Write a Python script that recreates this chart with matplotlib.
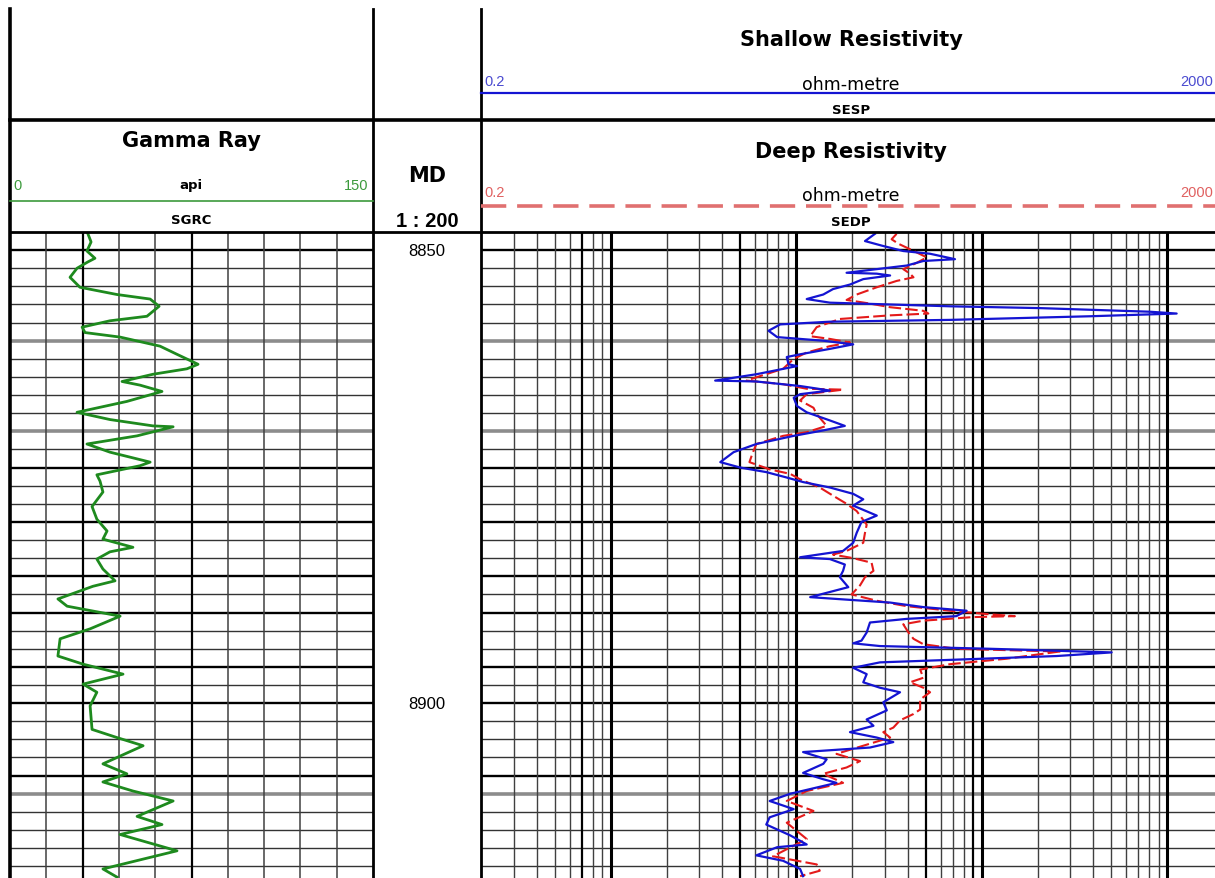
import matplotlib.pyplot as plt
import numpy as np

plt.rcParams['font.family'] = ['Liberation Sans', 'DejaVu Sans']

# gamma ray (SGRC, api)
grDepth = [8848.2, 8849.1, 8850.1, 8850.9, 8851.3, 8852.0, 8853.0, 8854.1, 8854.9, 8855.4,
           8856.2, 8857.3, 8857.8, 8858.5, 8859.1, 8859.6, 8860.6, 8861.5, 8862.6, 8863.1,
           8863.7, 8864.5, 8864.9, 8865.6, 8866.7, 8867.9, 8868.7, 8869.4, 8869.5, 8870.5,
           8871.4, 8872.3, 8873.4, 8873.8, 8874.8, 8875.5, 8876.7, 8878.3, 8879.7, 8881.0,
           8881.9, 8882.8, 8883.3, 8884.1, 8885.2, 8886.5, 8887.1, 8888.5, 8889.3, 8890.4,
           8891.8, 8892.9, 8894.8, 8895.7, 8896.8, 8897.9, 8898.8, 8900.3, 8902.9, 8903.8,
           8904.7, 8906.7, 8907.8, 8908.7, 8909.7, 8910.8, 8912.5, 8913.4, 8914.5, 8916.3,
           8918.3, 8919.2]
grValue = [32.2, 33.5, 31.8, 35.1, 32.2, 27.7, 24.8, 28.9, 44.2, 57.9,
           61.6, 56.6, 41.3, 29.8, 31.0, 45.5, 62.0, 69.0, 77.7, 73.1,
           59.1, 46.3, 53.7, 62.8, 48.3, 27.7, 41.3, 59.1, 67.4, 52.5,
           31.8, 41.3, 57.9, 53.7, 35.9, 37.2, 38.4, 33.9, 35.9, 40.1,
           38.4, 50.8, 41.3, 35.9, 38.4, 43.4, 34.3, 19.8, 23.6, 45.5,
           33.1, 20.7, 19.8, 30.2, 46.7, 30.2, 35.9, 33.1, 33.9, 44.2,
           55.0, 38.4, 48.3, 38.4, 50.8, 67.4, 52.5, 62.8, 45.5, 69.0,
           38.4, 44.2]

# shallow resistivity (SESP, ohm-metre)
sespDepth = [8848.2, 8849.0, 8849.5, 8850.1, 8850.4, 8851.0, 8851.2, 8851.7, 8852.5, 8852.6,
             8852.8, 8853.2, 8853.8, 8854.3, 8854.9, 8855.4, 8855.8, 8856.2, 8856.4, 8856.8,
             8857.0, 8857.3, 8857.7, 8857.9, 8858.2, 8858.9, 8859.6, 8860.0, 8860.4, 8860.9,
             8861.5, 8861.8, 8862.6, 8862.8, 8863.7, 8864.4, 8864.5, 8865.0, 8865.5, 8865.9,
             8866.3, 8867.2, 8867.9, 8868.8, 8869.4, 8869.9, 8870.5, 8871.4, 8872.3, 8873.4,
             8874.0, 8874.5, 8875.1, 8875.6, 8876.2, 8876.9, 8877.5, 8878.2, 8879.3, 8880.0,
             8881.2, 8882.3, 8883.2, 8883.9, 8884.1, 8884.7, 8885.4, 8886.1, 8887.2, 8888.3,
             8888.5, 8888.9, 8889.4, 8889.8, 8890.4, 8890.7, 8891.1, 8892.2, 8893.1, 8893.4,
             8893.7, 8894.0, 8894.4, 8894.8, 8895.2, 8895.5, 8896.1, 8896.8, 8897.7, 8898.3,
             8898.8, 8899.9, 8900.8, 8901.8, 8902.5, 8903.2, 8903.8, 8904.3, 8904.9, 8905.4,
             8906.2, 8906.7, 8907.7, 8908.4, 8908.8, 8910.0, 8910.8, 8911.7, 8912.6, 8913.4,
             8914.6, 8915.6, 8915.9, 8916.8, 8917.4, 8918.3, 8919.1]
sespValue = [26.6, 23.5, 28.9, 37.8, 52.7, 71.8, 48.5, 39.5, 18.7, 27.2,
             32.1, 23.0, 19.5, 15.8, 14.0, 11.4, 15.2, 67.5, 206, 808,
             1125, 384, 67.5, 15.2, 8.2, 7.1, 7.9, 14.0, 20.3, 15.2,
             10.5, 8.9, 9.1, 10.1, 6.1, 3.66, 6.1, 10.5, 15.2, 10.5,
             9.7, 10.1, 11.4, 15.2, 18.3, 14.0, 9.7, 6.1, 4.6, 3.9,
             5.0, 6.9, 8.9, 10.9, 15.2, 20.3, 23.0, 20.3, 27.2, 22.5,
             21.2, 20.3, 17.9, 10.5, 15.2, 18.3, 17.9, 17.2, 19.1, 11.9,
             16.5, 32.1, 48.5, 83, 73, 39.5, 25.0, 24.0, 22.5, 20.3,
             28.3, 111, 502, 254, 73, 28.3, 20.3, 24.0, 23.0, 28.3,
             36.3, 29.5, 30.8, 24.0, 26.1, 19.5, 27.2, 33.4, 25.0, 10.9,
             14.6, 14.0, 10.9, 14.0, 16.5, 9.3, 7.2, 9.7, 7.2, 6.9,
             9.3, 11.4, 7.9, 6.1, 8.5, 10.5, 10.9]

# deep resistivity (SEDP, ohm-metre)
sedpDepth = [8848.2, 8848.8, 8849.3, 8849.9, 8850.8, 8851.4, 8852.1, 8852.6, 8853.0, 8853.4,
             8854.1, 8854.9, 8855.5, 8855.9, 8856.3, 8856.7, 8857.0, 8857.2, 8857.6, 8858.5,
             8859.5, 8859.8, 8860.2, 8860.6, 8861.3, 8862.0, 8863.1, 8863.9, 8864.4, 8864.8,
             8865.3, 8865.4, 8865.9, 8866.6, 8867.4, 8868.1, 8869.4, 8870.1, 8870.5, 8871.4,
             8872.5, 8873.4, 8874.2, 8874.7, 8875.3, 8876.2, 8877.1, 8878.0, 8878.8, 8880.3,
             8881.2, 8882.3, 8883.2, 8883.6, 8884.0, 8884.5, 8885.4, 8886.1, 8887.0, 8888.0,
             8888.7, 8889.3, 8889.8, 8890.2, 8890.4, 8890.5, 8890.9, 8891.3, 8892.2, 8892.9,
             8893.5, 8894.0, 8894.2, 8894.3, 8895.1, 8895.7, 8896.3, 8897.2, 8897.7, 8898.3,
             8898.8, 8899.6, 8900.7, 8901.2, 8901.9, 8902.7, 8903.2, 8903.8, 8904.7, 8905.6,
             8906.4, 8907.1, 8907.8, 8908.8, 8909.7, 8910.8, 8911.9, 8913.2, 8915.0, 8916.9,
             8917.8, 8918.5, 8919.1]
sedpValue = [34.8, 32.7, 35.6, 41.1, 50.6, 44.7, 37.8, 41.1, 42.9, 34.8,
             27.2, 21.2, 18.7, 25.0, 32.1, 48.5, 51.6, 32.1, 17.2, 12.9,
             11.9, 15.2, 19.5, 15.2, 11.4, 9.7, 8.5, 6.4, 5.4, 8.5,
             11.4, 17.9, 11.4, 10.5, 12.4, 12.9, 14.6, 11.4, 8.5, 6.1,
             5.8, 5.6, 7.2, 9.3, 10.5, 13.4, 15.8, 18.7, 21.2, 24.0,
             23.5, 23.0, 18.7, 15.8, 20.3, 25.5, 26.1, 23.5, 22.1, 19.9,
             27.2, 39.5, 67.5, 111, 151, 90, 48.5, 37.8, 40.3, 42.9,
             48.5, 73, 168, 264, 136, 67.5, 46.6, 48.5, 41.1, 48.5,
             52.7, 46.6, 46.6, 42.9, 36.3, 33.4, 29.5, 32.1, 23.0, 16.5,
             22.1, 18.7, 14.0, 17.9, 11.4, 8.9, 12.4, 8.9, 11.4, 7.5,
             12.9, 13.4, 10.5]

depthLabels = [8850, 8900]

W, H = 1215, 879
f = plt.figure(figsize=(W / 100, H / 100), dpi=100)

def fx(px):
    return px / W

def fy(py):
    return 1 - py / H

dTop = 8848.0
dBot = 8919.3

axGr = f.add_axes([fx(10), 0, fx(373) - fx(10), fy(233)])
axMd = f.add_axes([fx(373), 0, fx(481) - fx(373), fy(233)])
axRes = f.add_axes([fx(481), 0, fx(1223) - fx(481), fy(233)])

for ax in (axGr, axMd, axRes):
    ax.set_ylim(dBot, dTop)
    ax.set_xticks([])
    ax.set_yticks([])
    for s in ax.spines.values():
        s.set_visible(False)

# depth grid, every 2 units (the scan makes some lines look heavier)
blackDepths = [8850, 8874, 8880, 8886, 8890, 8896, 8900, 8908]
grayDepths = [8860, 8870, 8910]
for ax in (axGr, axRes):
    for d in np.arange(8850, 8920, 2):
        if d in grayDepths:
            ax.axhline(d, color='0.55', lw=2.6, zorder=1)
        elif d in blackDepths:
            ax.axhline(d, color='black', lw=1.7, zorder=1)
        else:
            ax.axhline(d, color='0.2', lw=1.0, zorder=1)

# gamma ray track
axGr.set_xlim(0, 150)
for v in np.arange(15, 150, 15):
    if v in (30, 75):
        axGr.axvline(v, color='black', lw=1.6, zorder=1)
    else:
        axGr.axvline(v, color='0.25', lw=1.1, zorder=1)
axGr.plot(grValue, grDepth, color='#1e8a1e', lw=2.0, zorder=3)

# resistivity track, log scale
axRes.set_xscale('log')
axRes.set_xlim(0.2, 2000)
axRes.set_xticks([])
axRes.minorticks_off()
heavyLines = [0.7, 5, 50, 90]
for dec in [0.1, 1, 10, 100, 1000]:
    for m in range(1, 10):
        v = round(dec * m, 3)
        if v <= 0.2 or v >= 2000:
            continue
        if m == 1:
            axRes.axvline(v, color='black', lw=2.2, zorder=1)
        elif v in heavyLines:
            axRes.axvline(v, color='black', lw=1.6, zorder=1)
        else:
            axRes.axvline(v, color='0.25', lw=1.0, zorder=1)
axRes.plot(sedpValue, sedpDepth, color='#e41a1a', lw=1.5, ls=(0, (6, 2)), zorder=3)
axRes.plot(sespValue, sespDepth, color='#1414d2', lw=1.6, zorder=4)

# depth column
axMd.set_xlim(0, 1)
for d in depthLabels:
    axMd.text(0.5, d, str(d), ha='center', va='center', fontsize=12)

# header in pixel coordinates
hdr = f.add_axes([0, 0, 1, 1])
hdr.set_xlim(0, W)
hdr.set_ylim(H, 0)
hdr.axis('off')

hdr.plot([10, 10], [10, H], color='black', lw=2.6)
hdr.plot([373, 373], [10, H], color='black', lw=2.0)
hdr.plot([481, 481], [10, H], color='black', lw=2.0)
hdr.plot([10, W], [121, 121], color='black', lw=2.6)
hdr.plot([10, W], [233, 233], color='black', lw=2.0)

title = dict(ha='center', va='center', fontsize=15, fontweight='bold', family='DejaVu Sans')
small = dict(ha='center', va='center', fontsize=9.5, fontweight='bold', family='DejaVu Sans')
unit = dict(ha='center', va='center', fontsize=12.5, family='DejaVu Sans')

# shallow resistivity header
hdr.text(851, 40, 'Shallow Resistivity', **title)
hdr.text(484, 82, '0.2', ha='left', va='center', fontsize=10.5, color='#4a4ad0')
hdr.text(1180, 82, '2000', ha='left', va='center', fontsize=10.5, color='#4a4ad0')
hdr.text(851, 85, 'ohm-metre', **unit)
hdr.plot([481, W], [94, 94], color='#1414d2', lw=1.6)
hdr.text(851, 111, 'SESP', **small)

# deep resistivity header
hdr.text(851, 152, 'Deep Resistivity', **title)
hdr.text(484, 193, '0.2', ha='left', va='center', fontsize=10.5, color='#e06060')
hdr.text(1180, 193, '2000', ha='left', va='center', fontsize=10.5, color='#e06060')
hdr.text(851, 196, 'ohm-metre', **unit)
hdr.plot([481, W], [207, 207], color='#e07070', lw=2.6, ls=(0, (7, 3)))
hdr.text(851, 223, 'SEDP', **small)

# gamma ray header
hdr.text(191, 141, 'Gamma Ray', **title)
hdr.text(13, 186, '0', ha='left', va='center', fontsize=10.5, color='#3c9a3c')
hdr.text(368, 186, '150', ha='right', va='center', fontsize=10.5, color='#3c9a3c')
hdr.text(191, 186, 'api', **small)
hdr.plot([10, 373], [202, 202], color='#3c9a3c', lw=1.2)
hdr.text(191, 221, 'SGRC', **small)

# depth header
hdr.text(427, 176, 'MD', ha='center', va='center', fontsize=15, fontweight='bold', family='DejaVu Sans')
hdr.text(427, 222, '1 : 200', ha='center', va='center', fontsize=14.5, fontweight='bold')

f.savefig('out.png', dpi=100)
